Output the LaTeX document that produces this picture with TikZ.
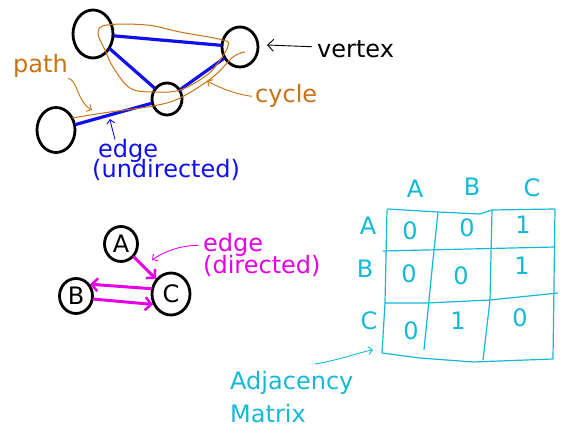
\documentclass[tikz,border=0pt]{standalone}
\usepackage{fontspec}
\setmainfont{DejaVu Sans}
\usetikzlibrary{shapes.geometric,arrows.meta}
\definecolor{eblue}{RGB}{15,15,240}
\definecolor{orng}{RGB}{200,115,20}
\definecolor{mgnt}{RGB}{230,0,230}
\definecolor{cyn}{RGB}{20,185,215}
\begin{document}
\begin{tikzpicture}[x=1pt,y=-1pt,
 vtx/.style={ellipse,draw=black,line width=2.8pt,inner sep=0pt,font=\fontsize{24}{24}\selectfont},
 lbl/.style={anchor=base west,inner sep=0pt,font=\fontsize{24}{24}\selectfont},
 cell/.style={anchor=base,inner sep=0pt,text=cyn,font=\fontsize{24}{24}\selectfont},
 uedge/.style={eblue,line width=3.2pt,line cap=round},
 dedge/.style={mgnt,line width=3pt,line cap=round,-{Straight Barb[length=6pt,width=13pt,line width=2.5pt]}},
 note/.style={line width=0.9pt,-{Straight Barb[length=4pt,width=8pt]}},
 mgrid/.style={cyn,line width=1.2pt},
 loopline/.style={orng,line width=1pt},
]
\fill[white] (0,0) rectangle (574,435);
\useasboundingbox (0,0) rectangle (574,435);

% undirected graph
\node[vtx,minimum width=40pt,minimum height=48pt] (v1) at (93,34) {};
\node[vtx,minimum width=36pt,minimum height=40pt] (v2) at (240,47) {};
\node[vtx,minimum width=30pt,minimum height=32pt] (v3) at (167,99) {};
\node[vtx,minimum width=38pt,minimum height=45pt] (v4) at (56,130) {};
\draw[uedge] (v1) -- (v2);
\draw[uedge] (v1) -- (v3);
\draw[uedge] (v2) -- (v3);
\draw[uedge] (v3) -- (v4);

% cycle and path (hand-drawn)
\draw[loopline] plot[smooth cycle,tension=0.6] coordinates {(98,33)(107,25)(147,25)(180,32)(223,40)(228,46)(220,60)(207,75)(180,90)(153,92)(130,88)(113,67)(105,50)};
\draw[loopline] plot[smooth,tension=0.6] coordinates {(72,118)(110,112)(153,106)(180,98)(213,77)(233,57)(245,52)};

% labels top
\node[lbl,text=orng] (lpath) at (13,73) {path};
\node[lbl,text=eblue] (ledge) at (98,158) {edge};
\node[lbl,text=eblue] (lundir) at (92,178) {(undirected)};
\node[lbl] (lvertex) at (317,58) {vertex};
\node[lbl,text=orng] (lcycle) at (255,103) {cycle};

\coordinate (ptip) at (92,110);
\coordinate (etip) at (110,119);
\coordinate (vtip) at (267,45);
\coordinate (ctip) at (207,81);
\draw[orng,note] (lpath.south east) .. controls +(10,2) and +(-15,-8) .. (ptip);
\draw[eblue,note] ([xshift=17pt]ledge.north west) .. controls +(-2,-8) and +(1,6) .. (etip);
\draw[note,-{Straight Barb[length=6pt,width=12pt]}] ([xshift=-5pt,yshift=3pt]lvertex.west) -- (vtip);
\draw[orng,note] ([xshift=-3pt]lcycle.west) .. controls +(-15,-2) and +(15,8) .. (ctip);

% directed graph
\node[vtx,minimum width=33pt,minimum height=35pt] (na) at (121,244) {A};
\node[vtx,minimum width=38pt,minimum height=42pt] (nc) at (171,294) {C};
\node[vtx,minimum width=33pt,minimum height=35pt] (nb) at (76,296) {B};
\draw[dedge] (na) -- (nc);
\draw[dedge] (nc.165) -- (nb.40);
\draw[dedge] (nb.-10) -- (nc.210);

\node[lbl,text=mgnt] (ledged) at (203,252) {edge};
\node[lbl,text=mgnt] (ldir) at (203,274) {(directed)};
\coordinate (dtip) at (152,260);
\draw[mgnt,note] ([xshift=-5pt]ledged.west) .. controls +(-20,0) and +(10,-7) .. (dtip);

% adjacency matrix
\draw[mgrid] (387,209) -- (438,212) -- (480,214) -- (492,210) -- (555,209);
\draw[mgrid] (383,251) -- (555,247);
\draw[mgrid] (385,303) -- (427,303) -- (490,300) -- (558,293);
\draw[mgrid] (382,353) -- (420,358) -- (473,362) -- (553,359);
\draw[mgrid] (387,210) -- (385,303) -- (382,353);
\draw[mgrid] (438,212) -- (433,260) -- (424,350);
\draw[mgrid] (492,210) -- (490,300) -- (483,360);
\draw[mgrid] (555,209) -- (553,359);

\node[cell] (hA) at (415,198) {A};
\node[cell] (hB) at (472,196) {B};
\node[cell] (hC) at (532,197) {C};
\node[cell] (rA) at (368,235) {A};
\node[cell] (rB) at (365,278) {B};
\node[cell] (rC) at (369,330) {C};
\node[cell] (m11) at (410,240) {0};
\node[cell] (m12) at (467,237) {0};
\node[cell] (m13) at (523,234) {1};
\node[cell] (m21) at (409,283) {0};
\node[cell] (m22) at (461,285) {0};
\node[cell] (m23) at (522,275) {1};
\node[cell] (m31) at (411,340) {0};
\node[cell] (m32) at (458,330) {1};
\node[cell] (m33) at (520,327) {0};

\node[lbl,text=cyn] (ladj) at (230,390) {Adjacency};
\node[lbl,text=cyn] (lmat) at (230,423) {Matrix};
\coordinate (astart) at (315,364);
\coordinate (atip) at (373,350);
\draw[cyn,note] (astart) .. controls (340,360) and (360,352) .. (atip);
\end{tikzpicture}
\end{document}
